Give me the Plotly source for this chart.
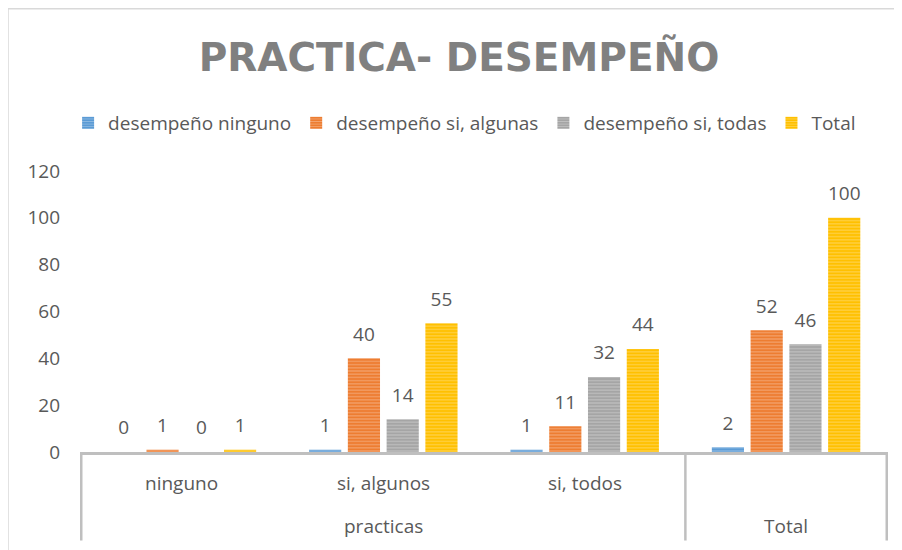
import plotly.graph_objects as go

# ---------------- data ----------------
categories = ["ninguno", "si, algunos", "si, todos", "Total"]
level1_labels = ["ninguno", "si, algunos", "si, todos", ""]
groups = ["practicas", "practicas", "practicas", "Total"]
series_names = ["desempeño ninguno", "desempeño si, algunas", "desempeño si, todas", "Total"]
desempeno_ninguno = [0, 1, 1, 2]
desempeno_si_algunas = [1, 40, 11, 52]
desempeno_si_todas = [0, 14, 32, 46]
total = [1, 55, 44, 100]
y_ticks = [0, 20, 40, 60, 80, 100, 120]
title_text = "PRACTICA- DESEMPEÑO"

# ---------------- style ----------------
series_values = [desempeno_ninguno, desempeno_si_algunas, desempeno_si_todas, total]
main_colors = ["#5B9BD5", "#ED7D31", "#A5A5A5", "#FFC000"]
light_colors = ["#BDD7EE", "#F8CBAD", "#DBDBDB", "#FFE699"]
TXT = "#595959"
FONT = "Open Sans"
AX = "#BFBFBF"
BARGAP = 0.23
W, H = 894, 542  # page adds an 8px body margin

fig = go.Figure()
for name, vals, c, lc in zip(series_names, series_values, main_colors, light_colors):
    fig.add_trace(go.Bar(
        x=categories, y=vals, name=name, offsetgroup=name,
        marker=dict(color=c, line=dict(width=0),
                    pattern=dict(shape="-", fgcolor=lc, size=3.2, solidity=0.35, fillmode="overlay")),
        hoverinfo="skip",
    ))
# data labels (text-only scatter grouped like the bars)
for name, vals in zip(series_names, series_values):
    fig.add_trace(go.Scatter(
        x=categories, y=vals, mode="markers+text", offsetgroup=name,
        text=[str(v) for v in vals], textposition="top center",
        textfont=dict(family=FONT, size=19, color=TXT),
        marker=dict(size=19, color="rgba(0,0,0,0)"),
        showlegend=False, hoverinfo="skip", cliponaxis=False,
    ))

# category labels (two levels) and dividers
annotations = []
for i, lab in enumerate(level1_labels):
    if lab:
        annotations.append(dict(x=i, y=-0.110, xref="x", yref="paper", text=lab, showarrow=False,
                                yanchor="middle", font=dict(family=FONT, size=19, color=TXT)))
shapes = []
start = 0
for i in range(1, len(groups) + 1):
    if i == len(groups) or groups[i] != groups[start]:
        annotations.append(dict(x=(start + i - 1) / 2, y=-0.262, xref="x", yref="paper",
                                text=groups[start], showarrow=False, yanchor="middle",
                                font=dict(family=FONT, size=19, color=TXT)))
        shapes.append(dict(type="line", xref="x", yref="paper", x0=start - 0.5, x1=start - 0.5,
                           y0=0, y1=-0.315, line=dict(color=AX, width=2.5)))
        start = i
shapes.append(dict(type="line", xref="x", yref="paper", x0=len(groups) - 0.5, x1=len(groups) - 0.5,
                   y0=0, y1=-0.315, line=dict(color=AX, width=2.5)))
# chart border
shapes.append(dict(type="rect", xref="paper", yref="paper", x0=-0.0891, x1=1.03, y0=-0.40, y1=1.577,
                   line=dict(color="#D9D9D9", width=1.5), layer="below"))

fig.update_layout(
    width=W, height=H,
    margin=dict(l=72, r=14, t=163, b=98),
    paper_bgcolor="white", plot_bgcolor="white",
    barmode="group", bargap=BARGAP, bargroupgap=0.17,
    scattermode="group", scattergap=BARGAP,
    title=dict(text="<b>" + title_text + "</b>", x=451 / W, xref="container", xanchor="center",
               y=1 - 49 / H, yref="container", yanchor="middle",
               font=dict(family="DejaVu Sans", size=39, color="#808080")),
    legend=dict(orientation="h", x=0.476, xanchor="center", y=1.171, yanchor="middle",
                font=dict(family=FONT, size=19, color=TXT), itemwidth=30,
                bgcolor="rgba(0,0,0,0)"),
    xaxis=dict(type="category", categoryorder="array", categoryarray=categories,
               showticklabels=False, showline=True, linecolor=AX, linewidth=3,
               showgrid=False, zeroline=False, ticks=""),
    yaxis=dict(range=[0, 120], tickvals=y_ticks, showgrid=False, zeroline=False, showline=False,
               ticks="", ticklabelstandoff=19,
               tickfont=dict(family=FONT, size=19, color=TXT)),
    annotations=annotations, shapes=shapes,
)
fig.write_html("out.html")
